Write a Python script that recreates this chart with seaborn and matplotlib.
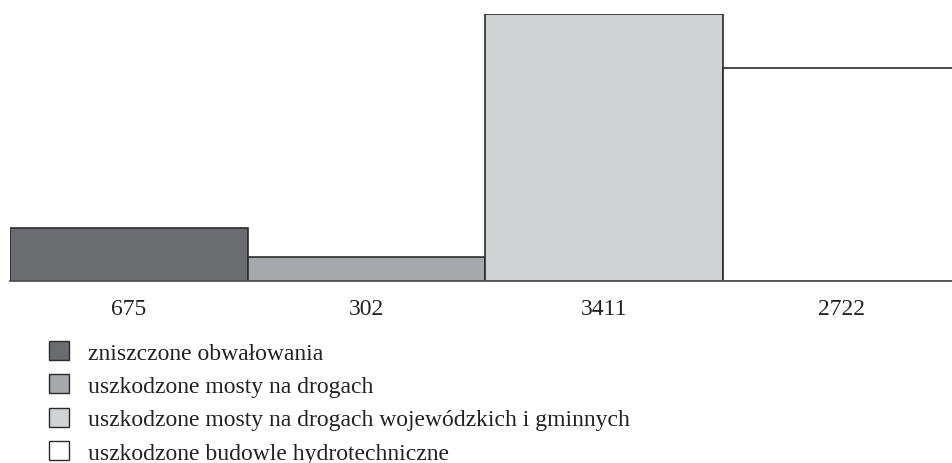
import matplotlib
matplotlib.use("Agg")
import matplotlib.pyplot as plt
import seaborn as sns
import pandas as pd
from matplotlib.patches import Patch

categories = ["zniszczone obwałowania",
              "uszkodzone mosty na drogach",
              "uszkodzone mosty na drogach wojewódzkich i gminnych",
              "uszkodzone budowle hydrotechniczne"]
values = [675, 302, 3411, 2722]
tick_labels = ["675", "302", "3411", "2722"]
colors = ["#6b6c6f", "#a7a8ab", "#d1d2d4", "#ffffff"]

df = pd.DataFrame({"label": tick_labels, "value": values, "cat": categories})

sns.set_theme(style="white")
plt.rcParams["font.family"] = ["Liberation Serif", "DejaVu Serif"]

fig = plt.figure(figsize=(9.52, 4.64), dpi=100)
W, H = 952, 464
ax = fig.add_axes([10 / W, (H - 282) / H, (W - 10) / W, 267 / H])

sns.barplot(data=df, x="label", y="value", hue="cat", palette=colors,
            dodge=False, width=1.0, edgecolor="#2b2b2b", linewidth=1.2,
            legend=False, ax=ax, saturation=1)

ax.set_xlim(-0.5, -0.5 + (W - 10) / 237.5)
ax.set_ylim(0, 3411)
for s in ["top", "right", "left"]:
    ax.spines[s].set_visible(False)
ax.spines["bottom"].set_color("#555555")
ax.spines["bottom"].set_linewidth(1.3)
ax.set_yticks([])
ax.set_xlabel("")
ax.set_ylabel("")
ax.tick_params(axis="x", length=0, pad=12, labelsize=17, labelcolor="#222222")

handles = [Patch(facecolor=c, edgecolor="#2b2b2b", linewidth=1.0) for c in colors]
fig.legend(handles, categories, loc="upper left",
           bbox_to_anchor=(49 / W, 1 - 342 / H), frameon=False,
           fontsize=17, handlelength=0.85, handleheight=0.85,
           handletextpad=0.8, labelspacing=0.46, borderpad=0,
           borderaxespad=0, labelcolor="#222222")

fig.savefig("out.png", dpi=100)
